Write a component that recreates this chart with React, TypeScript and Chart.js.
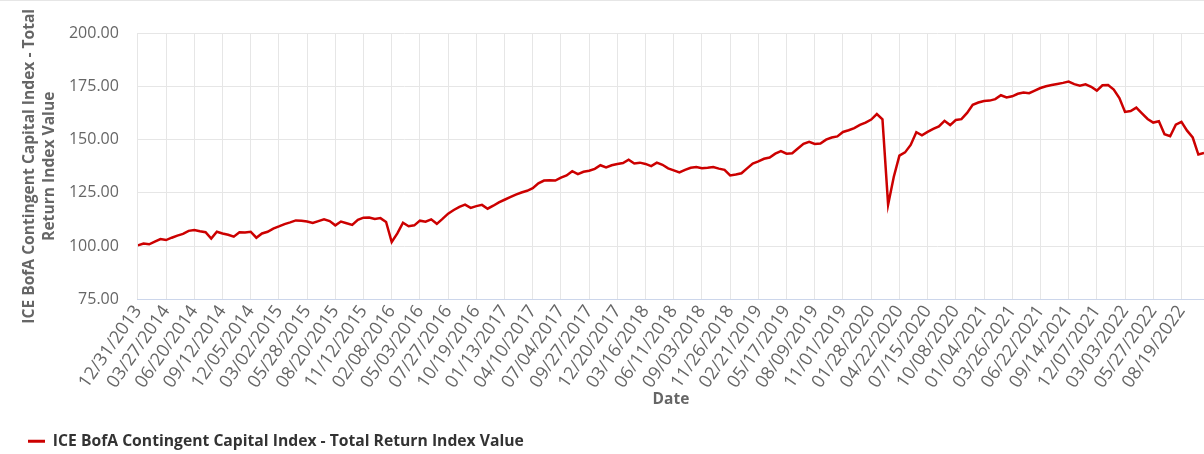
import { useEffect, useRef } from 'react';
import { Chart, registerables } from 'chart.js';

Chart.register(...registerables);

const seriesName = 'ICE BofA Contingent Capital Index - Total Return Index Value';
const yTitle = ['ICE BofA Contingent Capital Index - Total', 'Return Index Value'];
const xTitle = 'Date';

const tickLabels = [
  '12/31/2013', '03/27/2014', '06/20/2014', '09/12/2014', '12/05/2014', '03/02/2015',
  '05/28/2015', '08/20/2015', '11/12/2015', '02/08/2016', '05/03/2016', '07/27/2016',
  '10/19/2016', '01/13/2017', '04/10/2017', '07/04/2017', '09/27/2017', '12/20/2017',
  '03/16/2018', '06/11/2018', '09/03/2018', '11/26/2018', '02/21/2019', '05/17/2019',
  '08/09/2019', '11/01/2019', '01/28/2020', '04/22/2020', '07/15/2020', '10/08/2020',
  '01/04/2021', '03/26/2021', '06/22/2021', '09/14/2021', '12/07/2021', '03/03/2022',
  '05/27/2022', '08/19/2022',
];

// one sample every fifth of a tick interval (~12 trading days)
const samplesPerTick = 5;

const values = [
  100.4, 101.3, 100.9, 102.2, 103.4, 102.9, 104.0, 105.0, 105.8, 107.2,
  107.6, 107.0, 106.6, 103.6, 106.8, 106.0, 105.4, 104.5, 106.6, 106.4,
  106.8, 104.0, 106.0, 106.8, 108.3, 109.3, 110.4, 111.2, 112.1, 112.0,
  111.6, 110.9, 111.8, 112.6, 111.8, 109.8, 111.6, 110.8, 110.0, 112.4,
  113.4, 113.5, 112.8, 113.2, 111.4, 102.0, 106.0, 111.0, 109.4, 109.8,
  112.0, 111.5, 112.6, 110.5, 112.8, 115.3, 117.0, 118.5, 119.5, 118.0,
  118.8, 119.4, 117.6, 119.0, 120.6, 121.8, 123.0, 124.2, 125.2, 126.0,
  127.2, 129.5, 130.8, 131.0, 130.8, 132.2, 133.2, 135.2, 133.8, 134.9,
  135.4, 136.3, 138.0, 137.0, 138.0, 138.6, 139.0, 140.6, 138.8, 139.2,
  138.6, 137.6, 139.2, 138.2, 136.5, 135.6, 134.6, 135.8, 136.8, 137.2,
  136.6, 136.8, 137.1, 136.4, 135.8, 133.2, 133.6, 134.2, 136.5, 138.8,
  139.8, 141.0, 141.6, 143.4, 144.6, 143.4, 143.6, 145.8, 148.0, 149.0,
  148.0, 148.2, 150.0, 151.0, 151.5, 153.6, 154.4, 155.4, 156.9, 158.0,
  159.4, 162.0, 159.5, 119.5, 132.5, 142.5, 144.0, 147.5, 153.5, 152.0,
  153.6, 155.0, 156.2, 158.8, 156.8, 159.2, 159.6, 162.5, 166.3, 167.4,
  168.1, 168.3, 169.0, 170.8, 169.8, 170.3, 171.5, 172.1, 171.8, 173.0,
  174.2, 175.0, 175.6, 176.1, 176.6, 177.2, 176.0, 175.3, 175.9, 174.8,
  173.0, 175.5, 175.6, 173.5, 169.5, 163.0, 163.4, 165.0, 162.3, 159.7,
  158.0, 158.6, 152.5, 151.6, 157.0, 158.3, 154.2, 151.0, 143.0, 143.8,
];

const yTicks = [75, 100, 125, 150, 175, 200];

export default function App() {
  const canvasRef = useRef<HTMLCanvasElement | null>(null);

  useEffect(() => {
    const canvas = canvasRef.current;
    if (!canvas) return;
    Chart.defaults.font.family = '"Open Sans", sans-serif';
    const points = values.map((v, i) => ({ x: i / samplesPerTick, y: v }));
    const xMax = (values.length - 1) / samplesPerTick;

    const chart = new Chart(canvas, {
      type: 'line',
      data: {
        datasets: [
          {
            label: seriesName,
            data: points,
            borderColor: '#cc0000',
            backgroundColor: '#cc0000',
            borderWidth: 2.5,
            pointRadius: 0,
            tension: 0,
            fill: false,
          },
        ],
      },
      options: {
        animation: false,
        responsive: true,
        maintainAspectRatio: false,
        layout: { padding: { top: 32, right: 0, left: 18, bottom: 0 } },
        plugins: {
          tooltip: { enabled: false },
          legend: {
            position: 'bottom',
            align: 'start',
            labels: {
              boxWidth: 17,
              boxHeight: 3,
              color: '#333333',
              font: { size: 15.7, weight: 'bold' },
              padding: 10,
              generateLabels: (c: any) =>
                Chart.defaults.plugins.legend.labels
                  .generateLabels(c)
                  .map((l: any) => ({ ...l, lineWidth: 0 })),
            },
          },
        },
        scales: {
          x: {
            type: 'linear',
            min: 0,
            max: xMax,
            afterBuildTicks: (axis: any) => {
              axis.ticks = tickLabels.map((_, i) => ({ value: i }));
            },
            grid: { color: '#e6e6e6', drawTicks: false },
            border: { color: '#ccd6eb' },
            ticks: {
              autoSkip: false,
              maxRotation: 55,
              minRotation: 55,
              padding: 2,
              color: '#666666',
              font: { size: 18 },
              callback: (v: any) => tickLabels[v] ?? '',
            },
            title: {
              display: true,
              text: xTitle,
              color: '#666666',
              font: { size: 15.5, weight: 'bold' },
              padding: { top: -4, bottom: 14.5 },
            },
          },
          y: {
            min: 75,
            max: 200,
            afterBuildTicks: (axis: any) => {
              axis.ticks = yTicks.map((v) => ({ value: v }));
            },
            grid: { color: '#e6e6e6', drawTicks: false },
            border: { display: false },
            ticks: {
              padding: 19,
              color: '#666666',
              font: { size: 16 },
              callback: (v: any) => Number(v).toFixed(2),
            },
            title: {
              display: true,
              text: yTitle,
              color: '#666666',
              font: { size: 15.6, weight: 'bold', lineHeight: 1.28 },
              padding: { top: 2, bottom: -10 },
            },
          },
        },
      },
    });
    return () => chart.destroy();
  }, []);

  return (
    <div
      style={{
        position: 'absolute',
        left: 0,
        top: 0,
        width: 1204,
        height: 454,
        overflow: 'hidden',
        borderTop: '1px solid #e6e6e6',
        boxSizing: 'border-box',
        background: '#ffffff',
      }}
    >
      <div style={{ position: 'relative', width: 1204, height: 458 }}>
        <canvas ref={canvasRef} />
      </div>
    </div>
  );
}
